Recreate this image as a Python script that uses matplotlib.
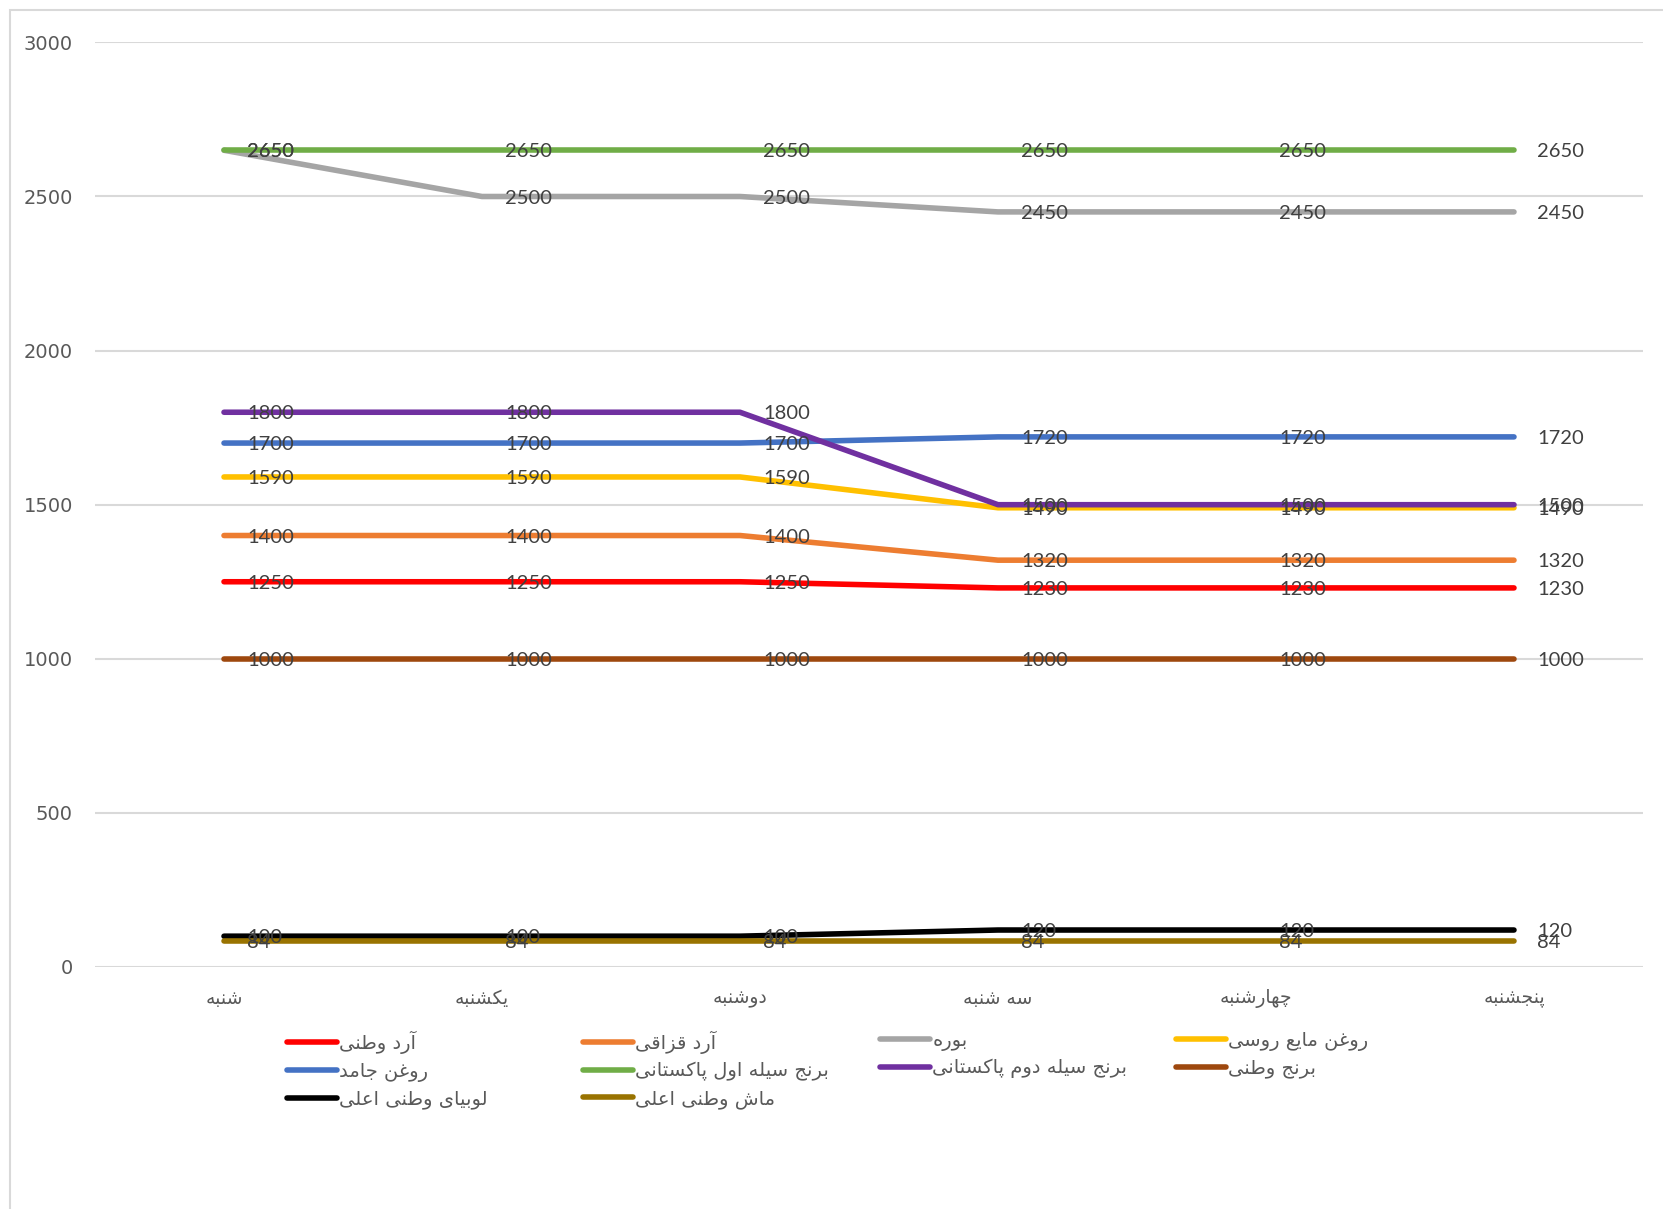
import matplotlib
matplotlib.use("Agg")
import matplotlib.pyplot as plt
from matplotlib.lines import Line2D
from matplotlib.patches import Rectangle

# ---------------- data ----------------
days = ["شنبه", "یکشنبه", "دوشنبه", "سه شنبه", "چهارشنبه", "پنجشنبه"]
series_names = [
    "آرد وطنی", "آرد قزاقی", "بوره", "روغن مایع روسی",
    "روغن جامد", "برنج سیله اول پاکستانی", "برنج سیله دوم پاکستانی", "برنج وطنی",
    "لوبیای وطنی اعلی", "ماش وطنی اعلی",
]
ard_watani = [1250, 1250, 1250, 1230, 1230, 1230]
ard_qazaqi = [1400, 1400, 1400, 1320, 1320, 1320]
boora = [2650, 2500, 2500, 2450, 2450, 2450]
roghan_maye = [1590, 1590, 1590, 1490, 1490, 1490]
roghan_jamed = [1700, 1700, 1700, 1720, 1720, 1720]
berenj_sela1 = [2650, 2650, 2650, 2650, 2650, 2650]
berenj_sela2 = [1800, 1800, 1800, 1500, 1500, 1500]
berenj_watani = [1000, 1000, 1000, 1000, 1000, 1000]
lobia = [100, 100, 100, 120, 120, 120]
mash = [84, 84, 84, 84, 84, 84]
values = [ard_watani, ard_qazaqi, boora, roghan_maye, roghan_jamed,
          berenj_sela1, berenj_sela2, berenj_watani, lobia, mash]
colors = ["#FF0000", "#ED7D31", "#A5A5A5", "#FFC000", "#4472C4",
          "#70AD47", "#7030A0", "#9E480E", "#000000", "#997300"]
yticks = [0, 500, 1000, 1500, 2000, 2500, 3000]

# ---------------- Arabic/Persian shaping (presentation forms + RTL) ----------------
FORMS = {
    '\u0622': ('\uFE81', '\uFE82', None, None),
    '\u0627': ('\uFE8D', '\uFE8E', None, None),
    '\u0628': ('\uFE8F', '\uFE90', '\uFE91', '\uFE92'),
    '\u062A': ('\uFE95', '\uFE96', '\uFE97', '\uFE98'),
    '\u062C': ('\uFE9D', '\uFE9E', '\uFE9F', '\uFEA0'),
    '\u062F': ('\uFEA9', '\uFEAA', None, None),
    '\u0631': ('\uFEAD', '\uFEAE', None, None),
    '\u0632': ('\uFEAF', '\uFEB0', None, None),
    '\u0633': ('\uFEB1', '\uFEB2', '\uFEB3', '\uFEB4'),
    '\u0634': ('\uFEB5', '\uFEB6', '\uFEB7', '\uFEB8'),
    '\u0637': ('\uFEC1', '\uFEC2', '\uFEC3', '\uFEC4'),
    '\u0639': ('\uFEC9', '\uFECA', '\uFECB', '\uFECC'),
    '\u063A': ('\uFECD', '\uFECE', '\uFECF', '\uFED0'),
    '\u0642': ('\uFED5', '\uFED6', '\uFED7', '\uFED8'),
    '\u0644': ('\uFEDD', '\uFEDE', '\uFEDF', '\uFEE0'),
    '\u0645': ('\uFEE1', '\uFEE2', '\uFEE3', '\uFEE4'),
    '\u0646': ('\uFEE5', '\uFEE6', '\uFEE7', '\uFEE8'),
    '\u0647': ('\uFEE9', '\uFEEA', '\uFEEB', '\uFEEC'),
    '\u0648': ('\uFEED', '\uFEEE', None, None),
    '\u06CC': ('\uFBFC', '\uFBFD', '\uFBFE', '\uFBFF'),
    '\u06A9': ('\uFB8E', '\uFB8F', '\uFB90', '\uFB91'),
    '\u067E': ('\uFB56', '\uFB57', '\uFB58', '\uFB59'),
    '\u0686': ('\uFB7A', '\uFB7B', '\uFB7C', '\uFB7D'),
}


def shape(s):
    out = []
    n = len(s)
    for i, c in enumerate(s):
        if c not in FORMS:
            out.append(c)
            continue
        f = FORMS[c]
        prev = s[i - 1] if i > 0 else None
        nxt = s[i + 1] if i < n - 1 else None
        jp = prev in FORMS and FORMS[prev][2] is not None
        jn = nxt in FORMS and f[2] is not None
        if jp and jn:
            out.append(f[3])
        elif jp:
            out.append(f[1])
        elif jn:
            out.append(f[2])
        else:
            out.append(f[0])
    return ''.join(reversed(out))


# ---------------- figure ----------------
W, H = 1663, 1209
fig = plt.figure(figsize=(W / 100, H / 100), dpi=100)
ax = fig.add_axes([95 / W, 1 - 967 / H, (1643 - 95) / W, (967 - 42.4) / H])

# outer chart border
fig.patches.append(Rectangle((9.5 / W, -0.05), 1.1, 1 - 10 / H + 0.05,
                             transform=fig.transFigure, fill=False,
                             edgecolor="#D9D9D9", linewidth=1.5))

x = list(range(len(days)))
for name, vals, col in zip(series_names, values, colors):
    ax.plot(x, vals, color=col, linewidth=4.0, solid_capstyle="round",
            solid_joinstyle="round", label=shape(name), zorder=3)

for vals in values:
    for xi, v in zip(x, vals):
        ax.annotate(str(v), (xi, v), xytext=(16.5, -1.2), textcoords="offset points",
                    ha="left", va="center", fontsize=14.5, color="#404040",
                    family=["Lato", "DejaVu Sans"], zorder=10)

ax.set_xlim(-0.5, len(days) - 0.5)
ax.set_ylim(0, 3000)
ax.set_yticks(yticks)
ax.set_yticklabels([str(t) for t in yticks], fontsize=14, color="#595959",
                   family="DejaVu Sans")
ax.set_xticks(x)
ax.set_xticklabels([shape(d) for d in days], fontsize=13.5, color="#595959",
                   family="DejaVu Sans")
ax.tick_params(axis="both", length=0)
ax.tick_params(axis="y", pad=16)
ax.tick_params(axis="x", pad=16)
ax.grid(axis="y", color="#D9D9D9", linewidth=1.5, zorder=0)
ax.set_axisbelow(True)
for s in ax.spines.values():
    s.set_visible(False)

# legend: four fixed-width columns
handles = [Line2D([0], [0], color=c, linewidth=4.0, solid_capstyle="round") for c in colors]
labels = [shape(n) for n in series_names]
col_x = [283, 579, 876, 1172]
for j in range(4):
    idx = list(range(j, len(series_names), 4))
    leg = fig.legend([handles[i] for i in idx], [labels[i] for i in idx],
                     loc="upper left", bbox_to_anchor=((col_x[j] - 6) / W, 1 - 1021 / H),
                     frameon=False, handlelength=2.6, handletextpad=0.1,
                     labelspacing=0.4, borderpad=0.0, labelcolor="#595959",
                     prop={"family": "DejaVu Sans", "size": 14})

fig.savefig("out.png", dpi=100)
